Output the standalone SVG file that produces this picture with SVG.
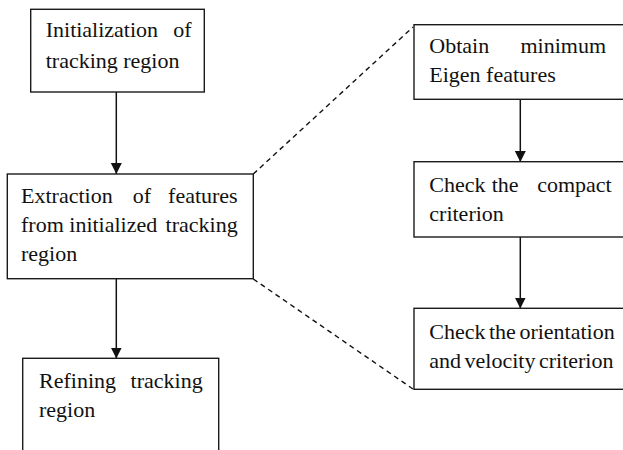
<svg xmlns="http://www.w3.org/2000/svg" width="623" height="450" viewBox="0 0 623 450">
<style>
.box{fill:#fff;stroke:#1a1a1a;stroke-width:1.4}
.t{font-family:"Liberation Serif","Times New Roman",serif;font-size:22px;fill:#111}
.e{text-anchor:end}
.tight{word-spacing:-2px}
.arr{stroke:#111;stroke-width:1.5;fill:none}
.dash{stroke:#111;stroke-width:1.4;fill:none;stroke-dasharray:5,4}
</style>
<defs>
<marker id="ah" markerWidth="11" markerHeight="12" refX="11" refY="5.5" orient="auto" markerUnits="userSpaceOnUse">
<path d="M0,0 L11,5.5 L0,11 Z" fill="#111"/>
</marker>
</defs>
<rect width="623" height="450" fill="#fff"/>
<g id="connectors">
<line class="arr" x1="116.3" y1="92" x2="116.3" y2="174" marker-end="url(#ah)"/>
<line class="arr" x1="116.3" y1="279" x2="116.3" y2="358.5" marker-end="url(#ah)"/>
<line class="arr" x1="520.3" y1="99.5" x2="520.3" y2="162" marker-end="url(#ah)"/>
<line class="arr" x1="520.3" y1="237" x2="520.3" y2="308.5" marker-end="url(#ah)"/>
<line class="dash" x1="253.3" y1="174" x2="413" y2="27"/>
<line class="dash" x1="253.3" y1="279" x2="413" y2="389"/>
</g>
<g id="n1">
<rect class="box" x="30.7" y="9.3" width="173.6" height="82.7"/>
<text class="t" x="45.7" y="37">Initialization</text>
<text class="t e" x="191.7" y="37">of</text>
<text class="t" x="45.7" y="67.5">tracking region</text>
</g>
<g id="n2">
<rect class="box" x="7.3" y="174" width="246" height="104.7"/>
<text class="t" x="21" y="203.3">Extraction</text>
<text class="t" x="132.7" y="203.3">of</text>
<text class="t e" x="237.7" y="203.3">features</text>
<text class="t" x="21" y="232.3">from initialized</text>
<text class="t e" x="237.7" y="232.3">tracking</text>
<text class="t" x="21" y="261">region</text>
</g>
<g id="n3">
<rect class="box" x="22.7" y="358.3" width="196" height="94"/>
<text class="t" x="39" y="388.3">Refining</text>
<text class="t e" x="202.7" y="388.3">tracking</text>
<text class="t" x="39" y="416.7">region</text>
</g>
<g id="n4">
<rect class="box" x="414" y="24.7" width="212" height="74.6"/>
<text class="t" x="429.3" y="53.3">Obtain</text>
<text class="t e" x="606" y="53.3">minimum</text>
<text class="t" x="429.3" y="82.3">Eigen features</text>
</g>
<g id="n5">
<rect class="box" x="414" y="161.7" width="212" height="75.3"/>
<text class="t" x="429.3" y="191.7">Check</text>
<text class="t" x="491.7" y="191.7">the</text>
<text class="t e" x="611.7" y="191.7">compact</text>
<text class="t" x="429.3" y="221">criterion</text>
</g>
<g id="n6">
<rect class="box" x="414" y="308.3" width="212" height="81"/>
<text class="t tight" x="429.3" y="339.3">Check the orientation</text>
<text class="t tight" x="429.3" y="367.7">and velocity criterion</text>
</g>
</svg>
